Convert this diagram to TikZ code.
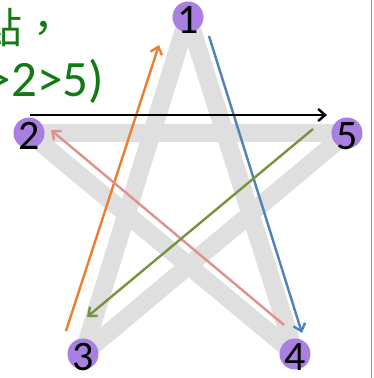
\documentclass[tikz,border=0pt]{standalone}
\usepackage{fontspec}
\setmainfont{Carlito}
\newfontfamily\cjkfont{Noto Sans CJK TC}
\usetikzlibrary{arrows.meta}
\definecolor{StarGray}{HTML}{DFDFDF}
\definecolor{NodePurple}{HTML}{A97FE0}
\definecolor{TextGreen}{HTML}{127A12}
\definecolor{MoveOrange}{HTML}{ED7D31}
\definecolor{MoveBlue}{HTML}{4F81BD}
\definecolor{MovePink}{HTML}{E0918C}
\definecolor{MoveGreen}{HTML}{77933C}
\definecolor{EdgeRed}{HTML}{E07A7A}

\begin{document}
\begin{tikzpicture}[x=1pt,y=1pt,>={Straight Barb[length=7pt,width=12pt]},
    starline/.style={StarGray, line width=18pt},
    vertex/.style={circle, fill=NodePurple, minimum size=31pt, inner sep=0pt},
    vnum/.style={font=\fontsize{42}{42}\selectfont, inner sep=0pt, yshift=-3pt},
    hint/.style={text=TextGreen, inner sep=0pt},
    move/.style={->, line width=2.4pt}]
    \useasboundingbox (0,0) rectangle (374,378);
    % star points
    \coordinate (c1) at (188,361);
    \coordinate (c2) at (29,245);
    \coordinate (c3) at (83,24);
    \coordinate (c4) at (295,24);
    \coordinate (c5) at (347,245);
    \draw[starline] (c1) -- (c3);
    \draw[starline] (c3) -- (c5);
    \draw[starline] (c5) -- (c2);
    \draw[starline] (c2) -- (c4);
    \draw[starline] (c4) -- (c1);
    \node[vertex, label={[vnum]center:1}] (n1) at (c1) {};
    \node[vertex, label={[vnum]center:2}] (n2) at (c2) {};
    \node[vertex, label={[vnum]center:3}] (n3) at (c3) {};
    \node[vertex, label={[vnum]center:4}] (n4) at (c4) {};
    \node[vertex, label={[vnum]center:5}] (n5) at (c5) {};
    % stroke order
    \coordinate (from3) at (66,47);
    \coordinate (to1) at (159,333);
    \coordinate (from1) at (209,342);
    \coordinate (to4) at (302,45);
    \coordinate (from4) at (284,53);
    \coordinate (to2) at (51,248);
    \coordinate (from2) at (30,263);
    \coordinate (to5) at (327,263);
    \coordinate (from5) at (313,249);
    \coordinate (to3) at (87,61);
    \draw[move, MoveOrange] (from3) -- (to1);
    \draw[move, MoveBlue] (from1) -- (to4);
    \draw[move, MovePink] (from4) -- (to2);
    \draw[move, black] (from2) -- (to5);
    \draw[move, MoveGreen] (from5) -- (to3);
    % text cut by the frame
    \node[hint, font=\fontsize{42}{42}\selectfont, anchor=base west] (clue) at (-20,334) {\cjkfont 點，};
    \node[hint, font=\fontsize{51}{51}\selectfont, anchor=base east] (order) at (104,281) {(3>1>4>2>5)};
    \draw[EdgeRed, line width=1.2pt] (371.5,0) -- (371.5,378);
\end{tikzpicture}
\end{document}
